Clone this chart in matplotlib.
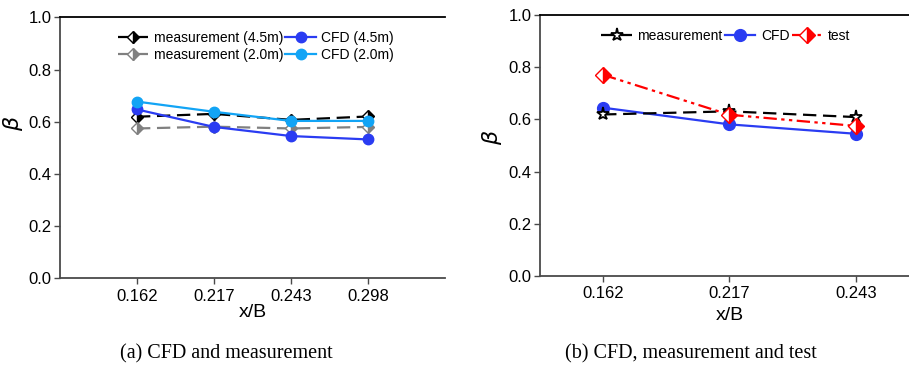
import matplotlib.pyplot as plt
import numpy as np

plt.rcParams['font.family'] = ['Liberation Sans', 'DejaVu Sans']
plt.rcParams['font.size'] = 10

# positions x/B (categorical)
xb_a = ['0.162', '0.217', '0.243', '0.298']
xb_b = ['0.162', '0.217', '0.243']

# (a) CFD and measurement
meas_45 = [0.619, 0.630, 0.607, 0.620]
meas_20 = [0.574, 0.581, 0.574, 0.580]
cfd_45 = [0.647, 0.580, 0.545, 0.532]
cfd_20 = [0.677, 0.638, 0.603, 0.603]

# (b) CFD, measurement and test
meas_b = [0.619, 0.631, 0.609]
cfd_b = [0.645, 0.581, 0.545]
test_b = [0.771, 0.618, 0.575]

blue = '#2a3cf2'
lblue = '#12a4f5'

fig = plt.figure(figsize=(9.09, 3.77), dpi=100)
ax1 = fig.add_axes([0.066, 0.262, 0.4235, 0.692])
ax2 = fig.add_axes([0.594, 0.268, 0.417, 0.692])

# order so the legend columns read measurement | CFD
ax1.plot(xb_a, meas_45, color='black', lw=1.6, dashes=(6, 3), marker='D', ms=6.5,
         fillstyle='right', mfc='black', mfcalt='white', mec='black', mew=1,
         label='measurement (4.5m)', zorder=3)
ax1.plot(xb_a, meas_20, color='#808080', lw=1.6, dashes=(6, 3), marker='D', ms=6.5,
         fillstyle='right', mfc='#808080', mfcalt='white', mec='#808080', mew=1,
         label='measurement (2.0m)', zorder=3)
ax1.plot(xb_a, cfd_45, color=blue, lw=1.6, marker='o', ms=7.5, mfc=blue, mec=blue,
         label='CFD (4.5m)', zorder=4)
ax1.plot(xb_a, cfd_20, color=lblue, lw=1.6, marker='o', ms=7.5, mfc=lblue, mec=lblue,
         label='CFD (2.0m)', zorder=5)
ax1.set_xlim(-1, 4)

ax2.plot(xb_b, meas_b, color='black', lw=1.6, dashes=(6, 3), marker='*', ms=9.5,
         mfc='white', mec='black', mew=1.3, label='measurement', zorder=4)
ax2.plot(xb_b, cfd_b, color=blue, lw=1.6, marker='o', ms=8.5, mfc=blue, mec=blue,
         label='CFD', zorder=3)
ax2.plot(xb_b, test_b, color='red', lw=1.6, dashes=(6, 2, 1.5, 2, 1.5, 2), marker='D',
         ms=8, fillstyle='right', mfc='red', mfcalt='white', mec='red', mew=1,
         label='test', zorder=5)
ax2.set_xlim(-0.5, 2.5)

for ax in (ax1, ax2):
    ax.set_ylim(0, 1.0)
    ax.set_yticks(np.arange(0, 1.01, 0.2))
    ax.set_yticklabels([f'{v:.1f}' for v in np.arange(0, 1.01, 0.2)])
    ax.spines['right'].set_visible(False)
    ax.spines['top'].set_color('black')
    ax.spines['top'].set_linewidth(1.3)
    for s in ('left', 'bottom'):
        ax.spines[s].set_color('#4a4a4a')
        ax.spines[s].set_linewidth(1.3)
    ax.tick_params(direction='out', length=4.5, width=1, color='#4a4a4a',
                   labelsize=12, pad=1.5)
    ax.tick_params(axis='x', pad=3)
    ax.set_ylabel(r'$\beta$', fontsize=16, labelpad=0)

ax1.set_xlabel('x/B', fontsize=14, labelpad=0)
ax2.set_xlabel('x/B', fontsize=14, labelpad=4)

ax1.yaxis.set_label_coords(-0.092, 0.595)
ax2.yaxis.set_label_coords(-0.094, 0.53)

ax1.legend(ncol=2, loc='upper center', bbox_to_anchor=(0.509, 0.99), frameon=False,
           fontsize=10, handlelength=2.2, handletextpad=0.4, columnspacing=0.15,
           labelspacing=0.2, borderaxespad=0.4)
ax2.legend(ncol=3, loc='upper center', bbox_to_anchor=(0.49, 0.99), frameon=False,
           fontsize=10, handlelength=2.2, handletextpad=0.4, columnspacing=0.15,
           borderaxespad=0.4)

fig.text(0.2486, 0.061, '(a) CFD and measurement', family='Liberation Serif',
         fontsize=14.5, ha='center', va='center')
fig.text(0.760, 0.061, '(b) CFD, measurement and test', family='Liberation Serif',
         fontsize=14.5, ha='center', va='center')

fig.savefig('out.png', dpi=100)
